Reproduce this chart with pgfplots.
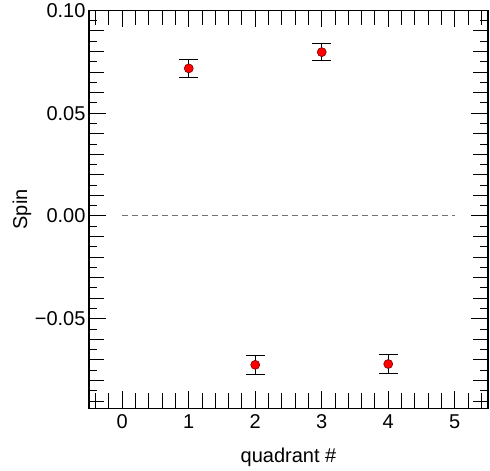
\documentclass[border=0pt]{standalone}
\usepackage{fontspec}
\setmainfont{Liberation Sans}
\usepackage{pgfplots}
\pgfplotsset{compat=1.18}
\begin{document}
\begin{tikzpicture}
\begin{axis}[
  scale only axis,
  width=399pt, height=398pt,
  xmin=-0.5, xmax=5.5,
  ymin=-0.0936, ymax=0.10,
  axis line style={line width=1.2pt},
  xtick={0,1,2,3,4,5},
  minor xtick={-0.4,-0.2,0.2,0.4,0.6,0.8,1.2,1.4,1.6,1.8,2.2,2.4,2.6,2.8,3.2,3.4,3.6,3.8,4.2,4.4,4.6,4.8,5.2,5.4},
  ytick={-0.05,0,0.05,0.10},
  yticklabels={−0.05,0.00,0.05,0.10},
  minor ytick={-0.09,-0.08,-0.07,-0.06,-0.04,-0.03,-0.02,-0.01,0.01,0.02,0.03,0.04,0.06,0.07,0.08,0.09},
  extra y ticks={-0.085,-0.075,-0.065,-0.055,-0.045,-0.035,-0.025,-0.015,-0.005,0.005,0.015,0.025,0.035,0.045,0.055,0.065,0.075,0.085,0.095},
  extra y tick labels={},
  extra y tick style={major tick length=8pt, tick style={line width=1pt, black}},
  major tick length=17pt,
  minor tick length=15pt,
  tick style={line width=1pt, black},
  tick align=inside,
  tick label style={font=\fontsize{20}{24}\selectfont},
  xticklabel style={yshift=-3pt},
  /pgf/number format/assume math mode=true,
  label style={font=\fontsize{20}{24}\selectfont},
  xlabel={quadrant \#},
  ylabel={Spin},
  x label style={at={(axis description cs:0.5,-0.137)}, anchor=base},
  y label style={at={(axis description cs:-0.168,0.5)}, anchor=center},
  clip=false,
]
\addplot[draw=black!55, line width=1pt, dash pattern=on 6pt off 4pt] coordinates {(0,0) (5,0)};
\addplot[only marks, mark=*, mark size=4.5pt,
  mark options={fill=red, draw=red!50!black, line width=0.6pt},
  error bars/.cd, y dir=both, y explicit,
  error bar style={line width=1pt, black},
  error mark options={rotate=90, mark size=9.5pt, line width=1pt, black}]
  coordinates {
    (1,0.0718) +- (0,0.0045)
    (2,-0.0724) +- (0,0.0045)
    (3,0.0797) +- (0,0.0043)
    (4,-0.0720) +- (0,0.0045)
  };
\end{axis}
\path (current axis.south west) ++(-89pt,-60pt);
\path (current axis.north east) ++(2pt,9pt);
\end{tikzpicture}
\end{document}
